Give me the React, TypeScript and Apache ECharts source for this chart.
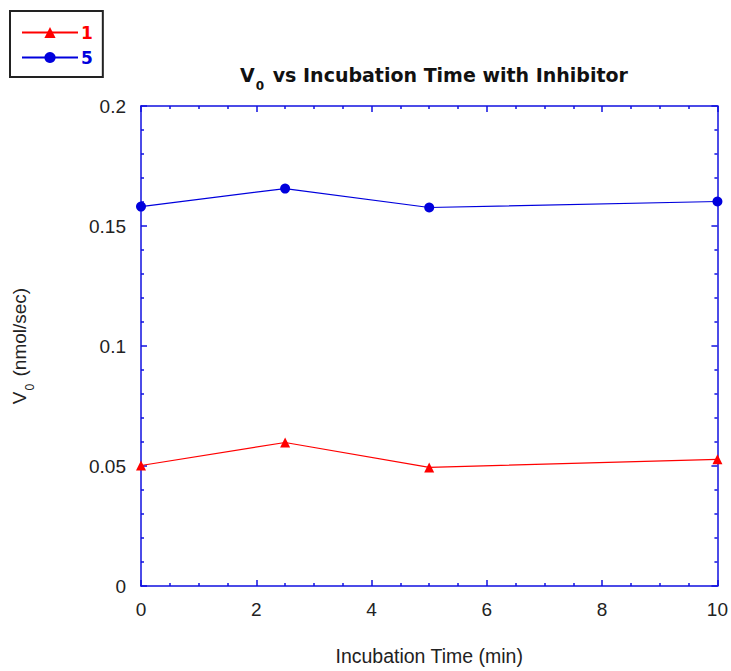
import React, { useEffect, useRef } from "react";
import * as echarts from "echarts";

const times = [0, 2.5, 5, 10];
const series1 = [0.0502, 0.0598, 0.0494, 0.0528];
const series5 = [0.1581, 0.1656, 0.1577, 0.1602];
const seriesNames = ["1", "5"];

export default function App() {
  const ref = useRef<HTMLDivElement>(null);
  useEffect(() => {
    if (!ref.current) return;
    const chart = echarts.init(ref.current, null, { renderer: "svg" });
    const font = "Liberation Sans";
    const axisBlue = "#1010e0";
    const baseX = {
      type: "value",
      min: 0,
      max: 10,
      interval: 2,
      axisLine: { show: true, onZero: false, lineStyle: { color: axisBlue, width: 1.5 } },
      axisTick: { show: true, inside: true, length: 6, lineStyle: { color: axisBlue, width: 1.5 } },
      minorTick: { show: true, splitNumber: 4, length: 3, lineStyle: { color: axisBlue, width: 1.5 } },
      splitLine: { show: false },
    };
    const baseY = {
      type: "value",
      min: 0,
      max: 0.2,
      interval: 0.05,
      axisLine: { show: true, onZero: false, lineStyle: { color: axisBlue, width: 1.5 } },
      axisTick: { show: true, inside: true, length: 6, lineStyle: { color: axisBlue, width: 1.5 } },
      minorTick: { show: true, splitNumber: 5, length: 3, lineStyle: { color: axisBlue, width: 1.5 } },
      splitLine: { show: false },
    };
    chart.setOption({
      animation: false,
      backgroundColor: "#ffffff",
      title: {
        text: "{m|V}{s|0}{m| vs Incubation Time with Inhibitor}",
        left: 429,
        top: 60,
        textAlign: "center",
        textStyle: {
          rich: {
            m: { fontFamily: "DejaVu Sans", fontWeight: "bold", fontSize: 19, color: "#111", lineHeight: 24, verticalAlign: "top" },
            s: { fontFamily: "DejaVu Sans", fontSize: 12, color: "#111", lineHeight: 24, padding: [15, 2, 0, 1], verticalAlign: "top" },
          },
        },
      },
      legend: {
        orient: "vertical",
        left: 10,
        top: 11,
        padding: [13, 10, 11, 11],
        itemGap: 8,
        itemWidth: 56,
        itemHeight: 14,
        borderColor: "#222",
        borderWidth: 2,
        data: [
          { name: "1", textStyle: { color: "#ff0000" } },
          { name: "5", textStyle: { color: "#0000dd" } },
        ],
        textStyle: { fontFamily: "DejaVu Sans", fontWeight: "bold", fontSize: 17, padding: [0, 0, 0, -2] },
      },
      grid: { left: 141, right: 13, top: 106, bottom: 83 },
      xAxis: [
        {
          ...baseX,
          position: "bottom",
          name: "Incubation Time (min)",
          nameLocation: "middle",
          nameGap: 60,
          nameTextStyle: { fontFamily: font, fontSize: 19.5, color: "#222" },
          axisLabel: { color: "#222", fontFamily: font, fontSize: 19, margin: 14 },
        },
        { ...baseX, position: "top", axisLabel: { show: false } },
      ],
      yAxis: [
        {
          ...baseY,
          position: "left",
          name: "{m|V}{s|0}{m| (nmol/sec)}",
          nameLocation: "middle",
          nameGap: 109,
          nameRotate: 90,
          nameTextStyle: {
            rich: {
              m: { fontFamily: font, fontSize: 19, color: "#222", lineHeight: 22, verticalAlign: "top" },
              s: { fontFamily: font, fontSize: 12, color: "#222", lineHeight: 22, padding: [14, 2, 0, 1], verticalAlign: "top" },
            },
          },
          axisLabel: { color: "#222", fontFamily: font, fontSize: 19, margin: 15 },
        },
        { ...baseY, position: "right", axisLabel: { show: false } },
      ],
      series: [
        {
          name: seriesNames[0],
          type: "line",
          data: times.map((t, i) => [t, series1[i]]),
          symbol: "triangle",
          symbolSize: 10,
          color: "#ff0000",
          lineStyle: { width: 1.2, color: "#ff0000" },
          itemStyle: { color: "#ff0000" },
        },
        {
          name: seriesNames[1],
          type: "line",
          data: times.map((t, i) => [t, series5[i]]),
          symbol: "circle",
          symbolSize: 10,
          color: "#0000dd",
          lineStyle: { width: 1.2, color: "#0000dd" },
          itemStyle: { color: "#0000dd" },
        },
      ],
    });
    return () => chart.dispose();
  }, []);
  return <div ref={ref} style={{ width: 731, height: 671, position: "absolute", left: 0, top: 0 }} />;
}
